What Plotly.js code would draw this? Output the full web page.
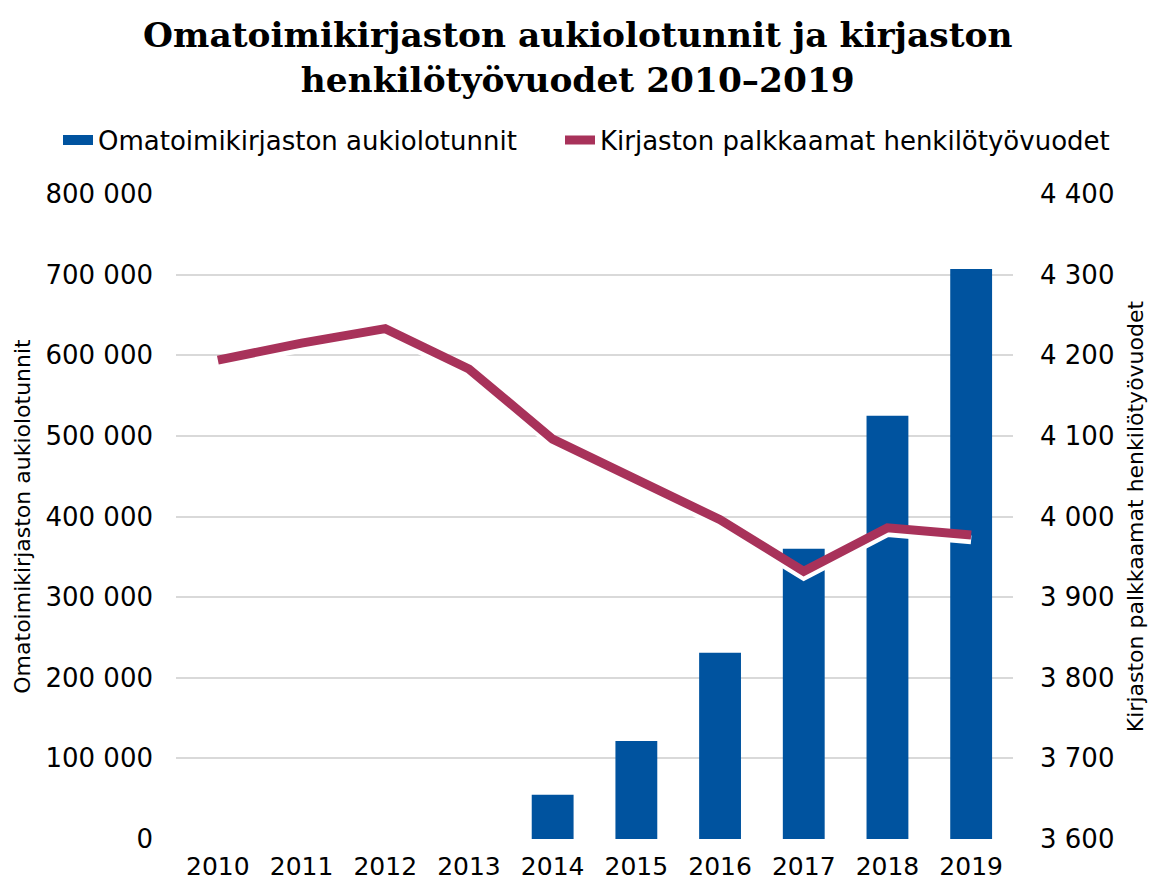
<!DOCTYPE html>
<html>
<head>
<meta charset="utf-8">
<script src="https://cdn.plot.ly/plotly-3.0.1.min.js"></script>
<style>html,body{margin:0;padding:0;background:#fff;}#chart{width:1151px;height:887px;}</style>
</head>
<body>
<div id="chart"></div>
<script>
const years = ["2010","2011","2012","2013","2014","2015","2016","2017","2018","2019"];
const openHours = [null, null, null, null, 55000, 121500, 231000, 360000, 525000, 707000];
const staffYears = [4194, 4215, 4233, 4183, 4096, 4047, 3996, 3932, 3986, 3977];
const leftTicks = [0, 100000, 200000, 300000, 400000, 500000, 600000, 700000, 800000];
const rightTicks = [3600, 3700, 3800, 3900, 4000, 4100, 4200, 4300, 4400];

const font = "DejaVu Sans, Verdana, sans-serif";
const shadowOffset = 6;
const barColor = "#00539F";
const lineColor = "#A8325A";

const traces = [
  {
    type: "bar", x: years, y: openHours, name: "Omatoimikirjaston aukiolotunnit",
    marker: {color: barColor}, yaxis: "y", showlegend: false
  },
  {
    type: "scatter", mode: "lines", x: years, y: staffYears.map(v => v - shadowOffset),
    yaxis: "y2", showlegend: false, hoverinfo: "skip",
    line: {color: "#ffffff", width: 9}
  },
  {
    type: "scatter", mode: "lines", x: years, y: years.map(() => null),
    name: "Omatoimikirjaston aukiolotunnit", yaxis: "y", legend: "legend",
    line: {color: barColor, width: 15}
  },
  {
    type: "scatter", mode: "lines", x: years, y: staffYears, name: "Kirjaston palkkaamat henkilötyövuodet",
    yaxis: "y2", legend: "legend2", line: {color: lineColor, width: 9}
  }
];

const legendBase = {
  orientation: "h", xanchor: "left", xref: "container",
  y: 1 - 140 / 887, yref: "container", yanchor: "middle",
  font: {family: font, size: 26, color: "#000"}, bgcolor: "rgba(0,0,0,0)"
};

const layout = {
  width: 1151, height: 887,
  margin: {l: 176, r: 138, t: 194, b: 48},
  paper_bgcolor: "#ffffff", plot_bgcolor: "#ffffff",
  separators: ", ",
  font: {family: font, color: "#000000", size: 24},
  title: {
    text: "<b>Omatoimikirjaston aukiolotunnit ja kirjaston<br>henkilötyövuodet 2010–2019</b>",
    font: {family: "DejaVu Serif, Georgia, serif", size: 34.4, color: "#000000"},
    x: 0.502, xanchor: "center", xref: "container",
    y: 1 - 47 / 887, yanchor: "middle", yref: "container"
  },
  showlegend: true,
  legend: Object.assign({}, legendBase, {x: 58 / 1151}),
  legend2: Object.assign({}, legendBase, {x: 560 / 1151}),
  bargap: 0.5,
  xaxis: {
    type: "category", tickfont: {family: font, size: 25}, showgrid: false, zeroline: false,
    showline: false, ticks: "", ticklabelstandoff: 10
  },
  yaxis: {
    range: [0, 800000], tickvals: leftTicks, tickformat: ",", showgrid: true,
    gridcolor: "#d9d9d9", gridwidth: 2, zeroline: false, tickfont: {family: font, size: 26},
    ticks: "", automargin: false, ticklabelstandoff: 22,
    title: {text: "Omatoimikirjaston aukiolotunnit", font: {family: font, size: 22}, standoff: 8}
  },
  yaxis2: {
    range: [3600, 4400], tickvals: rightTicks, tickformat: ",", overlaying: "y", side: "right",
    showgrid: false, zeroline: false, tickfont: {family: font, size: 26}, automargin: false,
    ticks: "", ticklabelstandoff: 26,
    title: {text: "Kirjaston palkkaamat henkilötyövuodet", font: {family: font, size: 22}, standoff: 14}
  }
};

Plotly.newPlot("chart", traces, layout, {displayModeBar: false, staticPlot: true});
</script>
</body>
</html>
